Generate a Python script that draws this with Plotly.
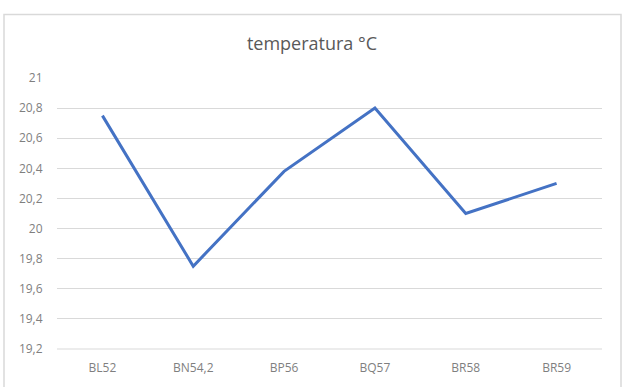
import plotly.graph_objects as go

categories = ["BL52", "BN54,2", "BP56", "BQ57", "BR58", "BR59"]
temperatures = [20.75, 19.75, 20.38, 20.8, 20.1, 20.3]
title_text = "temperatura °C"

W, H = 626, 387
ml, mr, mt, mb = 57, 24, 78, 38
pw, ph = W - ml - mr, H - mt - mb

def px_to_paper_x(px):
    return (px - ml) / pw

def px_to_paper_y(py):
    return (H - mb - py) / ph

fig = go.Figure()
fig.add_trace(go.Scatter(
    x=categories, y=temperatures, mode="lines",
    line=dict(color="#4472C4", width=3),
    showlegend=False, hoverinfo="skip",
))

# chart-area border
fig.add_shape(
    type="rect", xref="paper", yref="paper",
    x0=px_to_paper_x(4), x1=px_to_paper_x(621),
    y0=px_to_paper_y(395), y1=px_to_paper_y(14.5),
    line=dict(color="#D9D9D9", width=1.5), fillcolor="rgba(0,0,0,0)", layer="below",
)
# category axis line along the bottom of the plot area
fig.add_shape(
    type="line", xref="paper", yref="paper", x0=0, x1=1, y0=0, y1=0,
    line=dict(color="#D9D9D9", width=1), layer="below",
)

fig.update_layout(
    width=W, height=H,
    margin=dict(l=ml, r=mr, t=mt, b=mb),
    paper_bgcolor="white", plot_bgcolor="white",
    separators=", ",
    title=dict(text=title_text, x=312 / W, xanchor="center",
               y=1 - 44 / H, yanchor="middle",
               font=dict(family="Open Sans, Liberation Sans, sans-serif", size=18, color="#595959")),
    font=dict(family="Open Sans, Liberation Sans, sans-serif", size=12, color="#595959"),
    xaxis=dict(
        type="category", range=[-0.5, 5.5],
        showgrid=False, zeroline=False, showline=False,
        ticks="outside", ticklen=8, tickcolor="rgba(0,0,0,0)",
        tickfont=dict(size=12, color="#7F7F7F"),
    ),
    yaxis=dict(
        range=[19.2, 21], tick0=19.2, dtick=0.2,
        showgrid=True, gridcolor="#D9D9D9", gridwidth=1,
        zeroline=False, showline=False,
        ticks="outside", ticklen=11, tickcolor="rgba(0,0,0,0)",
        tickfont=dict(size=12, color="#7F7F7F"),
    ),
)

fig.write_html("out.html")
